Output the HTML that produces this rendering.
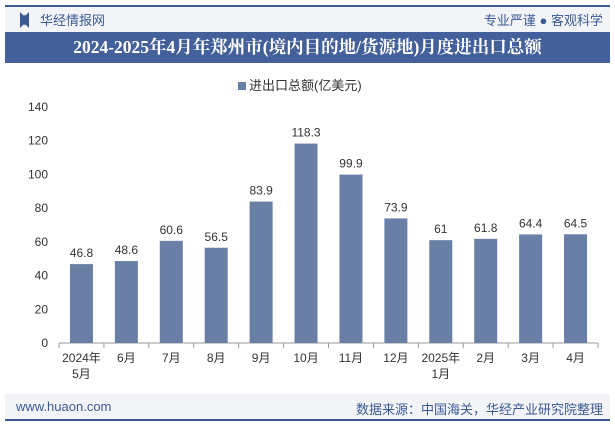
<!DOCTYPE html>
<html><head><meta charset="utf-8">
<style>
body{margin:0;width:615px;height:427px;background:#fff;font-family:"Liberation Sans","Noto Sans CJK SC",sans-serif;position:relative;overflow:hidden}
.abs{position:absolute}
</style></head><body>
<div class="abs" style="left:5px;top:5px;width:605px;height:27px;background:#f2f4f8;border-top:2px solid #3b5a93"></div>
<div class="abs" style="left:20px;top:12px;width:9px;height:16px;background:#3b5a93;clip-path:polygon(0 0,35% 20%,65% 20%,100% 0,100% 100%,65% 80%,35% 80%,0 100%)"></div>
<div class="abs" style="left:40px;top:10px;font-size:13px;color:#3b5a93">华经情报网</div>
<div class="abs" style="right:12px;top:10px;font-size:13px;color:#3b5a93">专业严谨 ● 客观科学</div>
<div class="abs" style="left:5px;top:32px;width:605px;height:31px;background:#44609a;color:#fff;font-family:'Liberation Serif','Noto Serif CJK SC',serif;font-weight:bold;font-size:17.5px;line-height:31px;text-align:center">2024-2025年4月年郑州市(境内目的地/货源地)月度进出口总额</div>
<div class="abs" style="left:238px;top:75px;font-size:13px;color:#333"><span style="display:inline-block;width:8px;height:8px;background:#6a7fa6;margin-right:3px"></span>进出口总额(亿美元)</div>
<svg class="abs" style="left:0;top:0" width="615" height="427" id="chart"></svg>
<div class="abs" style="left:5px;top:394px;width:605px;height:25px;background:#f2f4f8;border-bottom:2px solid #3b5a93"></div>
<div class="abs" style="left:16px;top:399px;font-size:13px;color:#3b5a93">www.huaon.com</div>
<div class="abs" style="right:12px;top:399px;font-size:13px;color:#3b5a93">数据来源：中国海关，华经产业研究院整理</div>
<script>
const categories=["2024年\n5月","6月","7月","8月","9月","10月","11月","12月","2025年\n1月","2月","3月","4月"];
const values=[46.8,48.6,60.6,56.5,83.9,118.3,99.9,73.9,61,61.8,64.4,64.5];
const labels=["46.8","48.6","60.6","56.5","83.9","118.3","99.9","73.9","61","61.8","64.4","64.5"];
const yTicks=[0,20,40,60,80,100,120,140];
const svg=document.getElementById('chart');const NS='http://www.w3.org/2000/svg';
const x0=59,x1=598,y0=343,y1=107,yMax=140;
const bw=(x1-x0)/categories.length;
const y=v=>y0-(v/yMax)*(y0-y1);
function mk(t,a,txt){const e=document.createElementNS(NS,t);for(const k in a)e.setAttribute(k,a[k]);if(txt!=null)e.textContent=txt;svg.appendChild(e);return e;}
yTicks.forEach(t=>{const e=mk('text',{x:48,y:y(t)+4,'text-anchor':'end','font-size':12,fill:'#333'},t);

});
mk('line',{x1:x0,x2:x1,y1:y0,y2:y0,stroke:'#999'});
for(let i=0;i<=categories.length;i++){mk('line',{x1:x0+i*bw,x2:x0+i*bw,y1:y0,y2:y0+5,stroke:'#999'});}
categories.forEach((c,i)=>{const cx=x0+(i+0.5)*bw;const w=23;
const r=mk('rect',{x:cx-w/2,y:y(values[i]),width:w,height:y0-y(values[i]),fill:'#6a7fa6'});


const l=mk('text',{x:cx,y:y(values[i])-7,'text-anchor':'middle','font-size':12,fill:'#333'},labels[i]);


c.split('\n').forEach((p,j)=>{const t=mk('text',{x:cx,y:362+j*16,'text-anchor':'middle','font-size':12,fill:'#333'},p);

});});
</script>
</body></html>
